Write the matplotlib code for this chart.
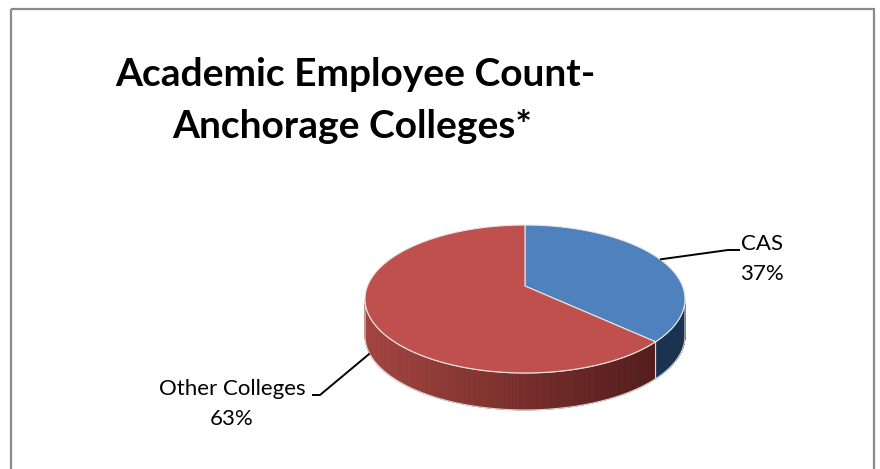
import numpy as np
import matplotlib.pyplot as plt
from matplotlib.colors import to_rgb
from matplotlib.patches import Polygon, Rectangle

categories = ["CAS", "Other Colleges"]
shares = [37, 63]
top_colors = ["#4f81bd", "#c0504d"]
side_left = ["#223f63", "#a3443f"]
side_right = ["#1a3250", "#4a1817"]

plt.rcParams['font.family'] = ['Lato', 'DejaVu Sans']

W, H = 880, 469
fig = plt.figure(figsize=(W / 100, H / 100), dpi=100)
ax = fig.add_axes([0, 0, 1, 1])
ax.set_xlim(0, W)
ax.set_ylim(H, 0)
ax.axis('off')

# chart frame
ax.add_patch(Rectangle((10.5, 9.5), 863, 480, fill=False, ec='#8a8a8a', lw=1.6))

# 3d pie geometry (pixel space), simple perspective
cx, cy = 525, 286
A, B, k = 157.5, 71.7, 0.1757
depth = 37


def rim(t):
    c, s = np.cos(t), np.sin(t)
    w = 1 + k * s
    return cx + A * c / w, cy - B * s / w


# angles: start at top, go clockwise
fracs = np.array(shares) / sum(shares)
starts = np.pi / 2 - 2 * np.pi * np.concatenate([[0], np.cumsum(fracs)[:-1]])
ends = starts - 2 * np.pi * fracs

t_right = -np.arcsin(k)
t_left = -np.pi + np.arcsin(k)
x0, x1 = rim(t_left)[0], rim(t_right)[0]

# side walls with gradient
for i in range(len(shares)):
    e, s = ends[i], starts[i]
    rngs = []
    for off in (0, -2 * np.pi, 2 * np.pi):
        a, b = max(e + off, t_left), min(s + off, t_right)
        if a < b:
            rngs.append((a, b))
    c0 = np.array(to_rgb(side_left[i]))
    c1 = np.array(to_rgb(side_right[i]))
    for a, b in rngs:
        ts = np.linspace(b, a, 120)
        xs, ys = rim(ts)
        for j in range(len(ts) - 1):
            f = ((xs[j] + xs[j + 1]) / 2 - x0) / (x1 - x0)
            col = c0 + (c1 - c0) * np.clip(f, 0, 1)
            quad = [(xs[j], ys[j]), (xs[j + 1], ys[j + 1]),
                    (xs[j + 1], ys[j + 1] + depth), (xs[j], ys[j] + depth)]
            ax.add_patch(Polygon(quad, closed=True, fc=col, ec=col, lw=0.6))
        bx, by = rim(np.linspace(a, b, 120))
        outline = list(zip(bx, by)) + list(zip(bx[::-1], by[::-1] + depth))
        ax.add_patch(Polygon(outline, closed=True, fill=False, ec='#d8d8d8', lw=0.8))

# top faces
for i in range(len(shares)):
    ts = np.linspace(starts[i], ends[i], 200)
    xs, ys = rim(ts)
    pts = [(cx, cy)] + list(zip(xs, ys))
    ax.add_patch(Polygon(pts, closed=True, fc=top_colors[i], ec='#e6e6e6', lw=0.8))

# labels with leader lines
label_pos = [(762, 250), (232, 395)]
for i in range(len(shares)):
    mid = (starts[i] + ends[i]) / 2
    px, py = rim(mid)
    if np.sin(mid) < 0:
        py += depth
    lx, ly = label_pos[i]
    if lx > cx:
        pts = [(px, py), (lx - 34, ly), (lx - 22, ly)]
    else:
        pts = [(px, py), (lx + 88, ly), (lx + 80, ly)]
    ax.plot([p[0] for p in pts], [p[1] for p in pts], color='black', lw=1.4,
            solid_capstyle='butt')
    ax.text(lx, ly, categories[i], ha='center', va='baseline', fontsize=16)
    ax.text(lx, ly + 30, f"{shares[i]}%", ha='center', va='baseline', fontsize=16)

# title
ax.text(355, 86, "Academic Employee Count-", ha='center', va='baseline',
        fontsize=28, fontweight='bold')
ax.text(352, 138, "Anchorage Colleges*", ha='center', va='baseline',
        fontsize=28, fontweight='bold')

fig.savefig('out.png', dpi=100)
